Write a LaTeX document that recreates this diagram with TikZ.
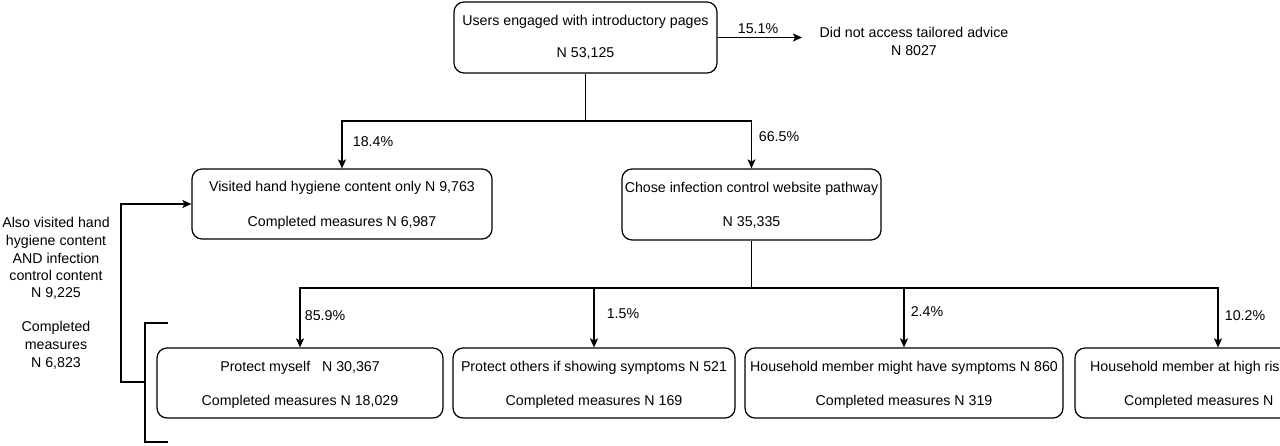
\documentclass[tikz,border=0pt]{standalone}
\usepackage{fontspec}
\setmainfont{Liberation Sans}
\usetikzlibrary{arrows.meta}
\begin{document}
\begin{tikzpicture}[x=1pt,y=-1pt,
  box/.style={draw, line width=1.2pt, rounded corners=10pt, inner sep=0pt},
  txt/.style={inner sep=0pt, anchor=base, font=\fontsize{14.2}{17.5}\selectfont},
  txtw/.style={txt, anchor=base west},
  conn/.style={line width=1.2pt},
  arr/.style={conn, -{Stealth[length=9pt,width=8pt,inset=2pt]}}]
\clip (0,0) rectangle (1280,446);
% boxes
\node[box, minimum width=263pt, minimum height=71pt] (top) at (585.5,37.5) {};
\node[box, minimum width=300pt, minimum height=70pt] (hh) at (342,204) {};
\node[box, minimum width=259pt, minimum height=71pt] (ic) at (751.5,204.5) {};
\node[box, minimum width=286pt, minimum height=70pt] (b1) at (300,383) {};
\node[box, minimum width=282pt, minimum height=70pt] (b2) at (594,383) {};
\node[box, minimum width=318pt, minimum height=70pt] (b3) at (904,383) {};
\node[box, minimum width=286pt, minimum height=70pt] (b4) at (1218,383) {};
% box texts
\node[txt] (topA) at (585.5,26) {Users engaged with introductory pages};
\node[txt] (topB) at (585.5,58) {N 53,125};
\node[txt] (dnaA) at (914,38) {Did not access tailored advice};
\node[txt] (dnaB) at (914,56) {N 8027};
\node[txt] (hhA) at (342,192) {Visited hand hygiene content only N 9,763};
\node[txt] (hhB) at (342,227) {Completed measures N 6,987};
\node[txt] (icA) at (751.5,193) {Chose infection control website pathway};
\node[txt] (icB) at (751.5,227) {N 35,335};
\node[txt] (b1A) at (300,371) {Protect myself\ \ \ N 30,367};
\node[txt] (b1B) at (300,405) {Completed measures N 18,029};
\node[txt] (b2A) at (594,371) {Protect others if showing symptoms N 521};
\node[txt] (b2B) at (594,405) {Completed measures N 169};
\node[txt] (b3A) at (904,371) {Household member might have symptoms N 860};
\node[txt] (b3B) at (904,405) {Completed measures N 319};
\node[txtw] (b4A) at (1090,371) {Household member at high risk};
\node[txtw] (b4B) at (1124,405) {Completed measures N};
% left text
\node[txt] (l1) at (56,228) {Also visited hand};
\node[txt] (l2) at (56,246) {hygiene content};
\node[txt] (l3) at (56,264) {AND infection};
\node[txt] (l4) at (56,281) {control content};
\node[txt] (l5) at (56,298) {N 9,225};
\node[txt] (l6) at (56,332) {Completed};
\node[txt] (l7) at (56,349) {measures};
\node[txt] (l8) at (56,367) {N 6,823};
% percentages
\node[txt] (p151) at (758,34) {15.1\%};
\node[txt] (p184) at (373,147) {18.4\%};
\node[txt] (p665) at (779,142) {66.5\%};
\node[txt] (p859) at (325,320) {85.9\%};
\node[txt] (p15) at (623,319) {1.5\%};
\node[txt] (p24) at (927,317) {2.4\%};
\node[txt] (p102) at (1245,320) {10.2\%};
% junctions
\coordinate (dnaTip) at (802,37.5);
\coordinate (j1) at (585.5,121);
\coordinate (j2) at (751.5,288);
\coordinate (brT) at (168,323);
\coordinate (brB) at (168,442);
\coordinate (brM) at (145,382);
\coordinate (fb) at (121,382);
% connectors
\draw[arr] (top.east) -- (dnaTip);
\draw[conn] (top.south) -- (j1);
\draw[arr] (j1) -| (hh.north);
\draw[arr] (j1) -| (ic.north);
\draw[conn] (ic.south) -- (j2);
\draw[arr] (j2) -| (b1.north);
\draw[arr] (j2) -| (b2.north);
\draw[arr] (j2) -| (b3.north);
\draw[arr] (j2) -| (b4.north);
% bracket and feedback
\draw[conn] (brT) -- (brT -| brM) -- (brB -| brM) -- (brB);
\draw[arr] (brM) -- (fb) |- (hh.west);
\end{tikzpicture}
\end{document}
